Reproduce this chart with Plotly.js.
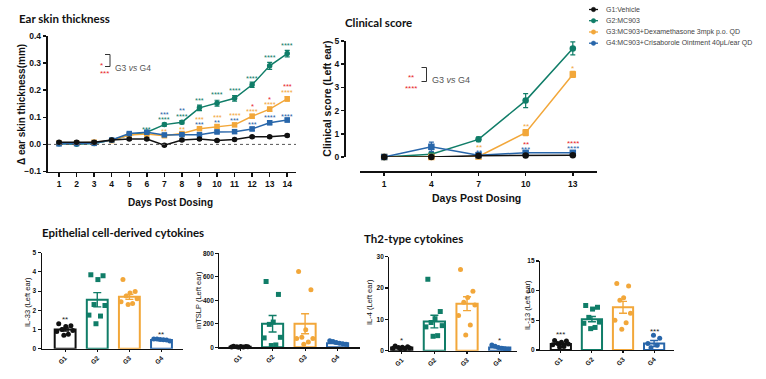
<!DOCTYPE html>
<html><head><meta charset="utf-8">
<script src="https://cdn.plot.ly/plotly-3.0.1.min.js"></script>
<style>html,body{margin:0;padding:0;background:#fff}</style>
</head><body><div id="chart" style="width:766px;height:379px"></div>
<script>
// ---------- data ----------
const groups = ['G1','G2','G3','G4'];
const groupNames = ['G1:Vehicle','G2:MC903','G3:MC903+Dexamethasone 3mpk p.o. QD','G4:MC903+Crisaborole Ointment 40μL/ear QD'];

// Ear skin thickness (Δ mm)
const earDays = [1,2,3,4,5,6,7,8,9,10,11,12,13,14];
const earG1 = [0.008,0.008,0.008,0.016,0.020,0.020,-0.003,0.016,0.020,0.014,0.018,0.028,0.028,0.033];
const earG2 = [0.002,0.001,0.003,0.016,0.035,0.045,0.073,0.082,0.135,0.152,0.170,0.220,0.290,0.335];
const earG3 = [0.005,0.005,0.008,0.014,0.035,0.038,0.032,0.040,0.058,0.066,0.072,0.104,0.130,0.168];
const earG4 = [0.002,0.003,0.004,0.016,0.040,0.045,0.035,0.036,0.036,0.046,0.047,0.057,0.080,0.090];
const earSemG1 = [0.004,0.004,0.004,0.003,0.004,0.004,0.004,0.004,0.004,0.004,0.004,0.004,0.004,0.004];
const earSemG2 = [0.003,0.003,0.003,0.003,0.005,0.006,0.006,0.006,0.010,0.011,0.010,0.010,0.013,0.012];
const earSemG3 = [0.003,0.003,0.003,0.003,0.004,0.004,0.004,0.005,0.005,0.006,0.006,0.007,0.008,0.008];
const earSemG4 = [0.003,0.003,0.003,0.003,0.004,0.005,0.005,0.005,0.005,0.006,0.006,0.006,0.007,0.007];
const earStars = [
  [6,0.062,'***','g2'],
  [7,0.118,'***','g4'],[7,0.100,'****','g2'],[7,0.055,'**','g3'],
  [8,0.132,'**','g4'],[8,0.110,'****','g2'],[8,0.061,'**','g3'],
  [9,0.168,'***','g2'],[9,0.098,'***','g3'],[9,0.080,'***','g4'],
  [10,0.190,'****','g2'],[10,0.106,'***','g3'],[10,0.087,'**','g4'],
  [11,0.205,'****','g2'],[11,0.114,'****','g3'],[11,0.095,'***','g4'],
  [12,0.252,'****','g2'],[12,0.148,'*','red'],[12,0.130,'****','g3'],[12,0.081,'***','g4'],
  [13,0.327,'****','g2'],[13,0.173,'*','red'],[13,0.155,'****','g3'],[13,0.106,'****','g4'],
  [14,0.373,'****','g2'],[14,0.222,'***','red'],[14,0.200,'****','g3'],[14,0.111,'****','g4']
];

// Clinical score (Left ear)
const clinDays = [1,4,7,10,13];
const clinG1 = [0,0,0.05,0.06,0.08];
const clinG2 = [0,0.12,0.76,2.43,4.68];
const clinG3 = [0,0,0.02,1.05,3.56];
const clinG4 = [0,0.44,0.08,0.18,0.18];
const clinSemG1 = [0,0,0.03,0.04,0.04];
const clinSemG2 = [0,0.05,0.1,0.3,0.28];
const clinSemG3 = [0,0,0.05,0.13,0.13];
const clinSemG4 = [0,0.2,0.05,0.05,0.05];
const clinStars = [
  [7,0.48,'**','g3'],[7,0.29,'**','g4'],[7,-0.22,'**','g1'],
  [10,1.38,'**','g3'],[10,0.63,'**','red'],[10,0.40,'***','g4'],[10,-0.27,'***','g1'],
  [13,3.88,'*','g3'],[13,0.67,'****','red'],[13,0.46,'****','g4'],[13,-0.24,'****','g1']
];

// Cytokines: individual values, mean, SEM
const il33Points = [[1.3,1.2,1.15,1.0,0.95,0.9,0.75,0.7],[3.85,3.8,3.6,2.3,2.25,1.75,1.7,1.3],[3.6,2.98,2.9,2.75,2.6,2.45,2.35,2.3],[0.5,0.5,0.48,0.47,0.45,0.4]];
const il33Mean = [1.0,2.55,2.7,0.45];
const il33Sem = [0.08,0.37,0.13,0.02];
const il33Stars = [[0,1.65,'**'],[3,0.83,'**']];

const tslpPoints = [[9,7,6,5,4,3,2,1],[560,450,215,195,85,80,20,15],[645,490,150,85,75,75,45,25],[55,50,40,35,30,25]];
const tslpMean = [5,200,200,35];
const tslpSem = [2,70,85,6];
const tslpStars = [];

const il4Points = [[1.5,1.3,1.1,1.0,0.9,0.8,0.7,0.6],[22.8,12.5,10.2,9.0,8.0,7.6,4.8,4.6],[25.9,19.0,17.0,15.5,14.6,11.2,8.2,5.0],[1.8,1.4,1.0,0.8,0.6,0.5]];
const il4Mean = [1.0,9.3,15.0,1.0];
const il4Sem = [0.15,2.0,2.2,0.25];
const il4Stars = [[0,3.9,'*'],[3,3.9,'*']];

const il13Points = [[1.6,1.5,1.3,1.1,1.0,0.9,0.6,0.5],[7.5,7.2,6.9,5.5,4.7,4.5,3.8,3.6],[11.2,10.8,8.8,8.4,6.2,5.0,4.6,3.5],[2.5,2.0,1.1,0.8,0.4]];
const il13Mean = [1.0,5.2,7.2,1.1];
const il13Sem = [0.15,0.45,1.0,0.5];
const il13Stars = [[0,3.0,'***'],[3,3.5,'***']];

// ---------- styles ----------
const colors = ['#111111','#107d68','#f2a73a','#2866aa'];
const starColors = {g1:'#444444', g2:'#107d68', g3:'#f2a73a', g4:'#2866aa', red:'#e8262a'};
const lineSymbols = ['circle','circle','square','square'];
const dotSymbols = ['circle','square','circle','circle'];
const jitter = {
  8:[-0.2,0.18,0.02,-0.1,0.24,-0.26,0.1,-0.04],
  6:[-0.24,-0.14,-0.04,0.06,0.16,0.26],
  5:[-0.02,0.18,-0.2,0.1,-0.1]
};
const W = 766, H = 379;
const px = v => v / W, py = v => 1 - v / H;
const FONT = 'Liberation Sans, Arial, sans-serif';
const TFONT = 'Lato, Liberation Sans, sans-serif';

const data = [];
const annotations = [];
const shapes = [];

function lineTrace(x, y, sem, gi, xa, ya, size) {
  return {type:'scatter', mode:'lines+markers', x:x, y:y, xaxis:xa, yaxis:ya, cliponaxis:false,
    line:{color:colors[gi], width:1.5},
    marker:{color:colors[gi], size:size, symbol:lineSymbols[gi]},
    error_y:{type:'data', array:sem, visible:true, color:colors[gi], thickness:1.2, width:2.5},
    hoverinfo:'skip', showlegend:false, name:groupNames[gi]};
}
const earY = [earG1,earG2,earG3,earG4], earS = [earSemG1,earSemG2,earSemG3,earSemG4];
const clinY = [clinG1,clinG2,clinG3,clinG4], clinS = [clinSemG1,clinSemG2,clinSemG3,clinSemG4];
[1,2,3,0].forEach(gi => {
  data.push(lineTrace(earDays, earY[gi], earS[gi], gi, 'x', 'y', 5.5));
});
[1,2,3,0].forEach(gi => {
  data.push(lineTrace(clinDays, clinY[gi], clinS[gi], gi, 'x2', 'y2', 6.5));
});

function starAnn(list, xa, ya, size) {
  list.forEach(s => annotations.push({x:s[0], y:s[1], xref:xa, yref:ya, text:s[2], showarrow:false,
    font:{family:FONT, size:size, color:starColors[s[3]]}, yshift:-2, height:5, valign:'middle'}));
}
starAnn(earStars, 'x', 'y', 7.5);
starAnn(clinStars, 'x2', 'y2', 8);

function barPanel(points, means, sems, stars, xa, ya) {
  groups.forEach((g, i) => {
    data.push({type:'bar', x:[i], y:[means[i]], width:[0.65], xaxis:xa, yaxis:ya,
      marker:{color:'rgba(255,255,255,1)', line:{color:colors[i], width:2}},
      error_y:{type:'data', array:[sems[i]], visible:true, color:colors[i], thickness:1.4, width:4},
      hoverinfo:'skip', showlegend:false});
    const pts = points[i];
    const jit = jitter[pts.length] || jitter[8];
    data.push({type:'scatter', mode:'markers', x:pts.map((v,k) => i + jit[k % jit.length]), y:pts,
      xaxis:xa, yaxis:ya, cliponaxis:false,
      marker:{color:colors[i], size:5, symbol:dotSymbols[i]}, hoverinfo:'skip', showlegend:false});
  });
  stars.forEach(s => annotations.push({x:s[0], y:s[1], xref:xa, yref:ya, text:s[2], showarrow:false,
    font:{family:FONT, size:8, color:'#222'}, yshift:-2}));
}
barPanel(il33Points, il33Mean, il33Sem, il33Stars, 'x3', 'y3');
barPanel(tslpPoints, tslpMean, tslpSem, tslpStars, 'x4', 'y4');
barPanel(il4Points, il4Mean, il4Sem, il4Stars, 'x5', 'y5');
barPanel(il13Points, il13Mean, il13Sem, il13Stars, 'x6', 'y6');

// ---------- axes ----------
function ax(extra, big) {
  return Object.assign({showline:true, linecolor:'#111', linewidth: big ? 1.8 : 1.2, ticks:'outside',
    ticklen: big ? 3.5 : 3, tickwidth: big ? 1.5 : 1.1, tickcolor:'#111', showgrid:false, zeroline:false,
    fixedrange:true, tickfont:{family:FONT, size: big ? 8.5 : 6.5, color:'#111', weight:'bold'}}, extra);
}
const catX = {tickvals:[0,1,2,3], ticktext:groups, tickangle:-45, ticklen:2};

// titles and axis titles
function txt(x, y, text, size, opts) {
  annotations.push(Object.assign({x:px(x), y:py(y), xref:'paper', yref:'paper', text:text, showarrow:false,
    xanchor:'center', yanchor:'middle', font:{family:FONT, size:size, color:'#111'}}, opts || {}));
}
txt(17, 18, '<b>Ear skin thickness</b>', 11.5, {xanchor:'left', font:{family:TFONT, size:11.5, color:'#111'}});
txt(343, 22, '<b>Clinical score</b>', 11.5, {xanchor:'left', font:{family:TFONT, size:11.5, color:'#111'}});
txt(40, 232.5, '<b>Epithelial cell-derived cytokines</b>', 11.5, {xanchor:'left', font:{family:TFONT, size:11.5, color:'#111'}});
txt(362, 238, '<b>Th2-type cytokines</b>', 11.5, {xanchor:'left', font:{family:TFONT, size:11.5, color:'#111'}});

txt(21, 105, '<b>Δ ear skin thickness(mm)</b>', 10, {textangle:-90});
txt(170, 202, '<b>Days Post Dosing</b>', 10);
txt(326.7, 99, '<b>Clinical score (Left ear)</b>', 10.5, {textangle:-90});
txt(476, 198, '<b>Days Post Dosing</b>', 10.5);

txt(27, 302, 'IL-33 (Left ear)', 7.5, {textangle:-90});
txt(198, 300, 'mTSLP (Left ear)', 7.5, {textangle:-90});
txt(369, 302, 'IL-4 (Left ear)', 7.5, {textangle:-90});
txt(527, 305, 'IL-13 (Left ear)', 7.5, {textangle:-90});

// G3 vs G4 keys
function key(sx, y1, y2, bx0, bx1, t1, t2, tx, ty, size) {
  annotations.push({x:px(sx), y:py(y1), xref:'paper', yref:'paper', text:t1, showarrow:false, font:{family:FONT, size:8, color:starColors.red}, yshift:-2});
  annotations.push({x:px(sx), y:py(y2), xref:'paper', yref:'paper', text:t2, showarrow:false, font:{family:FONT, size:8, color:starColors.red}, yshift:-2});
  shapes.push({type:'path', xref:'paper', yref:'paper',
    path:'M' + px(bx0) + ',' + py(y1 - 2) + ' L' + px(bx1) + ',' + py(y1 - 2) + ' L' + px(bx1) + ',' + py(y2 + 2) + ' L' + px(bx0) + ',' + py(y2 + 2),
    line:{color:'#333', width:1}});
  annotations.push({x:px(tx), y:py(ty), xref:'paper', yref:'paper', text:'G3 <i>vs</i> G4', showarrow:false, xanchor:'left',
    font:{family:FONT, size:size, color:'#555'}});
}
key(97.5, 56.5, 64.5, 105, 110, '*', '***', 113, 60.5, 8.5);
key(411, 69.5, 79.5, 421.5, 426.5, '**', '****', 430, 73, 9);

// zero dotted line
shapes.push({type:'line', xref:'x domain', yref:'y', x0:0, x1:1, y0:0, y1:0, line:{color:'#555', width:1, dash:'dot'}});

// legend (custom)
const legRows = [9.5, 20.7, 32, 43.2];
groupNames.forEach((n, i) => {
  shapes.push({type:'line', xref:'paper', yref:'paper', x0:px(589), x1:px(598), y0:py(legRows[i]), y1:py(legRows[i]), line:{color:colors[i], width:1.3}});
  shapes.push({type:'circle', xref:'paper', yref:'paper', x0:px(591.3), x1:px(595.7), y0:py(legRows[i] + 2.2), y1:py(legRows[i] - 2.2), fillcolor:colors[i], line:{color:colors[i], width:0.5}});
  annotations.push({x:px(604), y:py(legRows[i]), xref:'paper', yref:'paper', text:n, showarrow:false, xanchor:'left', yanchor:'middle', font:{family:FONT, size:7, color:'#444'}});
});

const layout = {
  width:W, height:H, margin:{l:0, r:0, t:0, b:0}, paper_bgcolor:'#fff', plot_bgcolor:'rgba(0,0,0,0)',
  showlegend:false, barmode:'overlay', font:{family:FONT},
  xaxis: ax({domain:[px(48), px(296)], range:[0.37, 14.5], tickvals:earDays, anchor:'y'}, true),
  yaxis: ax({domain:[py(171.5), py(36)], range:[-0.1, 0.4], tickvals:[-0.1,0,0.1,0.2,0.3,0.4], tickformat:'.1f', anchor:'x'}, true),
  xaxis2: ax({domain:[px(360), px(597)], range:[-0.54, 14.54], tickvals:clinDays, anchor:'free', position:py(171)}, true),
  yaxis2: ax({domain:[py(157), py(41)], range:[0, 5], tickvals:[0,1,2,3,4,5], anchor:'free', position:px(344), ticklen:3}, true),
  xaxis3: ax(Object.assign({domain:[px(41.7), px(183)], range:[-0.73, 3.67], anchor:'y3'}, catX)),
  yaxis3: ax({domain:[py(348.7), py(252.7)], range:[0, 5], tickvals:[0,1,2,3,4,5], anchor:'x3'}),
  xaxis4: ax(Object.assign({domain:[px(219.3), px(360)], range:[-0.64, 3.69], anchor:'y4'}, catX)),
  yaxis4: ax({domain:[py(347.3), py(253.3)], range:[0, 800], tickvals:[0,200,400,600,800], anchor:'x4'}),
  xaxis5: ax(Object.assign({domain:[px(389.3), px(516.7)], range:[-0.38, 3.52], anchor:'y5'}, catX)),
  yaxis5: ax({domain:[py(350.7), py(256.7)], range:[0, 30], tickvals:[0,10,20,30], anchor:'x5'}),
  xaxis6: ax(Object.assign({domain:[px(540), px(674)], range:[-0.67, 3.64], anchor:'y6'}, catX)),
  yaxis6: ax({domain:[py(350), py(261)], range:[0, 15], tickvals:[0,5,10,15], anchor:'x6'}),
  annotations: annotations,
  shapes: shapes
};
Plotly.newPlot('chart', data, layout, {staticPlot:true, displayModeBar:false});
</script>
</body></html>
